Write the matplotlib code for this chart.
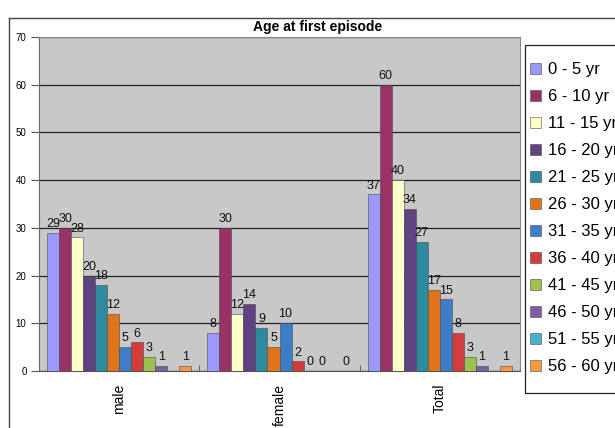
import numpy as np
import matplotlib as mpl
import matplotlib.pyplot as plt
from matplotlib.lines import Line2D
from matplotlib.patches import Rectangle

mpl.rcParams.update({
    "font.family": ["Liberation Sans", "DejaVu Sans"],
})

# --------------------------------------------------------------------------- #
# Data
# --------------------------------------------------------------------------- #
groups = ["male", "female", "Total"]
age_bands = ["0 - 5 yr", "6 - 10 yr", "11 - 15 yr", "16 - 20 yr", "21 - 25 yr",
             "26 - 30 yr", "31 - 35 yr", "36 - 40 yr", "41 - 45 yr", "46 - 50 yr",
             "51 - 55 yr", "56 - 60 yr"]
nan = np.nan
male = [29, 30, 28, 20, 18, 12, 5, 6, 3, 1, nan, 1]
female = [8, 30, 12, 14, 9, 5, 10, 2, 0, 0, nan, 0]
total = [37, 60, 40, 34, 27, 17, 15, 8, 3, 1, nan, 1]

colors = ["#9999FF", "#993366", "#FFFFCC", "#5F4280", "#2E8A9E", "#E0741C",
          "#3F7CC6", "#D33C3C", "#9BC24E", "#7D5EA6", "#4BB0CC", "#F7993E"]

vals = np.array([male, female, total])  # rows = groups, cols = age bands

# --------------------------------------------------------------------------- #
# Figure
# --------------------------------------------------------------------------- #
fig = plt.figure(figsize=(6.15, 4.28), dpi=100)
ax = fig.add_axes([39 / 615, 1 - 371 / 428, 481 / 615, 334 / 428])
ax.set_facecolor("#C8C8C8")

# outer chart frame (runs off the right/bottom edge)
fig.add_artist(Line2D([9 / 615, 9 / 615], [0, 1 - 18 / 428], color="#444444", lw=1.0))
fig.add_artist(Line2D([9 / 615, 1], [1 - 18 / 428, 1 - 18 / 428], color="#444444", lw=1.0))

x = np.arange(len(groups))
w = 0.075
for i, band in enumerate(age_bands):
    pos = x + (i - 5.5) * w
    v = vals[:, i]
    ax.bar(pos, np.nan_to_num(v), width=w, color=colors[i], edgecolor="#4a4a4a",
           linewidth=0.4, label=band, zorder=3)
    for px, pv in zip(pos, v):
        if not np.isnan(pv):
            ax.text(px, pv + 0.6, f"{int(pv)}", ha="center", va="bottom",
                    fontsize=9, color="#111111", zorder=4)

ax.set_xlim(-0.5, 2.5)
ax.set_ylim(0, 70)
ax.set_yticks(range(0, 71, 10))
ax.yaxis.grid(True, color="#222222", lw=0.9, zorder=1)
ax.tick_params(axis="y", direction="out", length=6, labelsize=7, width=0.8,
               color="#555555", pad=3)

ax.set_xticks(x)
ax.set_xticklabels(groups, rotation=90, fontsize=10, va="top")
ax.tick_params(axis="x", length=0, pad=9)
ax.set_xticks([0.5, 1.5], minor=True)
ax.tick_params(axis="x", which="minor", direction="in", length=4, color="#555555")

for s in ["top", "right"]:
    ax.spines[s].set_color("#888888")
    ax.spines[s].set_linewidth(0.8)
ax.spines["left"].set_color("#666666")
ax.spines["bottom"].set_color("#555555")

fig.text(318 / 615, 1 - 27 / 428, "Age at first episode", ha="center", va="center",
         fontsize=10, fontweight="bold")

# legend box (runs off the right edge, like the source)
fig.add_artist(Rectangle((525 / 615, 1 - 393 / 428), 100 / 615, 348 / 428,
                         transform=fig.transFigure, facecolor="white",
                         edgecolor="#222222", lw=0.9, zorder=2))
handles, labels = ax.get_legend_handles_labels()
leg = fig.legend(handles, labels, loc="upper left",
                 bbox_to_anchor=(525 / 615, 1 - 57 / 428),
                 fontsize=12, frameon=False, borderpad=0.3, labelspacing=0.72,
                 handlelength=0.65, handleheight=0.65, handletextpad=0.4,
                 borderaxespad=0)
leg.set_zorder(5)

fig.savefig("out.png", dpi=100)
